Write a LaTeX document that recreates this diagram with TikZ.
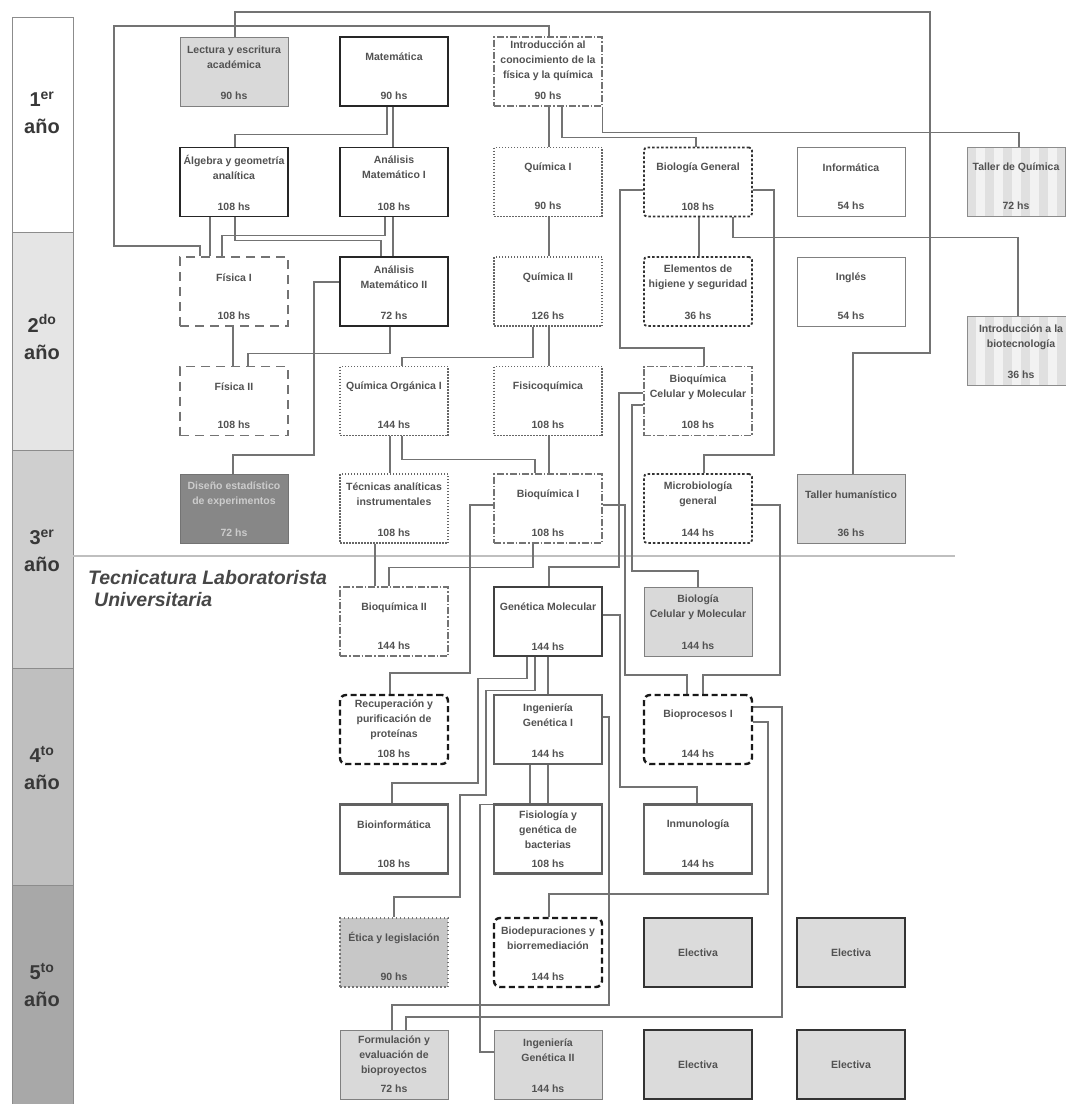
\documentclass[tikz,border=0pt]{standalone}
\usepackage{fontspec}
\setmainfont{Liberation Sans}

\pgfdeclarelayer{fondo}
\pgfsetlayers{fondo,main}

\tikzset{
  caja/.style={minimum width=108pt, minimum height=69pt, inner sep=0pt, fill=white},
  titulo/.style={align=center, inner sep=0pt, font=\fontsize{10.5}{15}\selectfont\bfseries, text=black!68},
  linea/.style={draw=black!55, line width=1.1pt},
  fuerte/.style={draw=black!85, line width=1.8pt},
  fina/.style={draw=black!50, line width=1pt},
  gris/.style={draw=black!50, line width=1pt, fill=black!15},
  rayado/.style={draw=black!45, line width=1pt, fill=black!5,
    path picture={\foreach \k in {0,18,...,108}
      \fill[black!12] ([xshift=\k pt]path picture bounding box.north west) rectangle ++(9,69);}},
  punteado/.style={draw=black!60, line width=1.3pt, dash pattern=on 1.5pt off 1.5pt},
  puntos/.style={draw=black!80, line width=1.8pt, dash pattern=on 2.5pt off 2pt, rounded corners=3pt},
  rayas/.style={draw=black!55, line width=1.3pt, dash pattern=on 9pt off 6pt},
  rayapunto/.style={draw=black!55, line width=1.1pt, dash pattern=on 7pt off 2pt on 1.5pt off 2pt},
  oscuro/.style={draw=black!55, line width=1pt, fill=black!47, text=black!20},
  doble/.style={draw=black!75, line width=2.8pt},
  grueso/.style={draw=black!62, line width=2.2pt},
  trazos/.style={draw=black!90, line width=2.4pt, dash pattern=on 6pt off 3.5pt, rounded corners=6pt},
  etica/.style={draw=black!55, line width=1.4pt, dash pattern=on 1.5pt off 2.5pt, fill=black!22},
  electiva/.style={draw=black!80, line width=2pt, fill=black!14},
  anio/.style={align=center, inner sep=0pt, font=\fontsize{20}{27}\selectfont\bfseries, text=black!78},
}

% caja de una materia: [bajada del titulo], nombre, estilo, centro, titulo, horas
\newcommand{\materia}[6][21]{%
  \node[caja,#3] (#2) at (#4) {};
  \node[titulo,#3,draw=none,fill=none,minimum width=0pt,path picture={}] (#2-t) at ([yshift=-#1pt]#2.north) {#5};
  \node[titulo,#3,draw=none,fill=none,minimum width=0pt,path picture={}] (#2-h) at ([yshift=11pt]#2.south) {#6~hs};
}

\begin{document}
\begin{tikzpicture}[x=1pt,y=-1pt]
\useasboundingbox (0,0) rectangle (1066,1104);

\begin{pgfonlayer}{fondo}
  \fill[white] (0,0) rectangle (1066,1104);
  % Columna de años
  \foreach \n/\suf/\ya/\yb/\yc/\tono in {1/er/17/232/113/white, 2/do/232/450/337/black!10,
      3/er/450/668/551/black!19, 4/to/668/885/768/black!25, 5/to/885/1110/985/black!34} {
    \draw[fill=\tono, draw=black!45, line width=0.8pt] (12,\ya) rectangle (73,\yb);
    \node[anio] (anio\n) at (42,\yc) {\n\textsuperscript{\suf}\\año};
  }
  % Tecnicatura
  \draw[black!25, line width=2pt] (73,556) -- (955,556);
\end{pgfonlayer}

\node[anchor=north west, align=left, inner sep=0pt, text=black!72,
  font=\fontsize{19.5}{22}\selectfont\bfseries\itshape] (tecnicatura) at (88,570)
  {Tecnicatura Laboratorista\\\hspace{6pt}Universitaria};

% Primer año
\materia{lect}{gris}{234,71.5}{Lectura y escritura\\académica}{90}
\materia{mate}{fuerte}{394,71.5}{Matemática}{90}
\materia[24]{intro}{rayapunto}{548,71.5}{Introducción al\\conocimiento de la\\física y la química}{90}
\materia{alg}{fuerte}{234,182}{Álgebra y geometría\\analítica}{108}
\materia{anI}{fuerte}{394,182}{Análisis\\Matemático I}{108}
\materia{quiI}{punteado}{548,182}{Química I}{90}
\materia{biogen}{puntos}{698,182}{Biología General}{108}
\materia{info}{fina}{851,182}{Informática}{54}
\materia{tallerq}{rayado,minimum width=98pt}{1016,182}{Taller de Química}{72}

% Segundo año
\materia{fisI}{rayas}{234,291.5}{Física I}{108}
\materia{anII}{fuerte}{394,291.5}{Análisis\\Matemático II}{72}
\materia{quiII}{punteado}{548,291.5}{Química II}{126}
\materia{elem}{puntos}{698,291.5}{Elementos de\\higiene y seguridad}{36}
\materia{ingles}{fina}{851,291.5}{Inglés}{54}
\materia{introbio}{rayado}{1021,351}{Introducción a la\\biotecnología}{36}
\materia{fisII}{rayas}{234,401}{Física II}{108}
\materia{quiorg}{punteado}{394,401}{Química Orgánica I}{144}
\materia{fisicoq}{punteado}{548,401}{Fisicoquímica}{108}
\materia{bioqcel}{rayapunto}{698,401}{Bioquímica\\Celular y Molecular}{108}

% Tercer año
\materia{dise}{oscuro}{234,508.5}{Diseño estadístico\\de experimentos}{72}
\materia{tecn}{punteado}{394,508.5}{Técnicas analíticas\\instrumentales}{108}
\materia{bioqI}{rayapunto}{548,508.5}{Bioquímica I}{108}
\materia{micro}{puntos}{698,508.5}{Microbiología\\general}{144}
\materia{tallerh}{gris}{851,508.5}{Taller humanístico}{36}
\materia{bioqII}{rayapunto}{394,621.5}{Bioquímica II}{144}
\materia{genmol}{doble}{548,621.5}{Genética Molecular}{144}
\materia{biolcel}{gris}{698,621.5}{Biología\\Celular y Molecular}{144}

% Cuarto año
\materia[26]{recup}{trazos}{394,729.5}{Recuperación y\\purificación de\\proteínas}{108}
\materia{ingI}{grueso}{548,729.5}{Ingeniería\\Genética I}{144}
\materia{biopro}{trazos}{698,729.5}{Bioprocesos I}{144}
\materia{bioinf}{grueso}{394,839}{Bioinformática}{108}
\materia[26]{fisio}{grueso}{548,839}{Fisiología y\\genética de\\bacterias}{108}
\materia{inmu}{grueso}{698,839}{Inmunología}{144}

% Quinto año
\materia{etica}{etica}{394,952.5}{Ética y legislación}{90}
\materia{biodep}{trazos}{548,952.5}{Biodepuraciones y\\biorremediación}{144}
\node[caja,electiva,titulo] (elec1) at (698,952.5) {Electiva};
\node[caja,electiva,titulo] (elec2) at (851,952.5) {Electiva};
\materia[26]{form}{gris}{394,1064.5}{Formulación y\\evaluación de\\bioproyectos}{72}
\materia{ingII}{gris}{548,1064.5}{Ingeniería\\Genética II}{144}
\node[caja,electiva,titulo] (elec3) at (698,1064.5) {Electiva};
\node[caja,electiva,titulo] (elec4) at (851,1064.5) {Electiva};

% Correlatividades
\begin{pgfonlayer}{fondo}
  \draw[linea] ([xshift=1pt]lect.north) |- (930,12) -- (930,353) -| ([xshift=2pt]tallerh.north);
  \draw[linea] ([xshift=1pt]intro.north) |- (114,26) -- (114,246) -| ([xshift=-34pt]fisI.north);
  \draw[linea] ([xshift=-7pt]mate.south) -- ++(0,28) -| ([xshift=1pt]alg.north);
  \draw[linea] ([xshift=-1pt]mate.south) -- ([xshift=-1pt]anI.north);
  \draw[linea] ([xshift=1pt]intro.south) -- ([xshift=1pt]quiI.north);
  \draw[linea] ([xshift=14pt]intro.south) -- ++(0,31) -| ([xshift=-2pt]biogen.north);
  \draw[linea] (intro.south east) -- ++(0,26) -| ([xshift=3pt]tallerq.north);
  \draw[linea] ([yshift=-8pt]biogen.west) -| (620,348) -| ([xshift=6pt]bioqcel.north);
  \draw[linea] ([yshift=-8pt]biogen.east) -| (774,455) -| ([xshift=6pt]micro.north);
  \draw[linea] ([xshift=1pt]biogen.south) -- ([xshift=1pt]elem.north);
  \draw[linea] ([xshift=35pt]biogen.south) -- ++(0,20) -| ([xshift=-3pt]introbio.north);
  \draw[linea] ([xshift=-24pt]alg.south) -- ([xshift=-24pt]fisI.north);
  \draw[linea] ([xshift=1pt]alg.south) -- ++(0,23) -| ([xshift=-13pt]anII.north);
  \draw[linea] ([xshift=-9pt]anI.south) -- ++(0,18) -| ([xshift=-12pt]fisI.north);
  \draw[linea] ([xshift=-1pt]anI.south) -- ([xshift=-1pt]anII.north);
  \draw[linea] ([xshift=1pt]quiI.south) -- ([xshift=1pt]quiII.north);
  \draw[linea] ([xshift=-1pt]fisI.south) -- ([xshift=-1pt]fisII.north);
  \draw[linea] ([xshift=-4pt]anII.south) -- ++(0,27) -| ([xshift=14pt]fisII.north);
  \draw[linea] ([yshift=9.5pt]anII.west) -| (314,455) -| ([xshift=-1pt]dise.north);
  \draw[linea] ([xshift=-15pt]quiII.south) -- ++(0,31) -| ([xshift=8pt]quiorg.north);
  \draw[linea] ([xshift=1pt]quiII.south) -- ([xshift=1pt]fisicoq.north);
  \draw[linea] ([xshift=-4pt]quiorg.south) -- ([xshift=-4pt]tecn.north);
  \draw[linea] ([xshift=8pt]quiorg.south) -- ++(0,23) -| ([xshift=-13pt]bioqI.north);
  \draw[linea] ([xshift=1pt]fisicoq.south) -- ([xshift=1pt]bioqI.north);
  \draw[linea] ([yshift=8pt]bioqcel.west) -| (619,567) -| ([xshift=1pt]genmol.north);
  \draw[linea] ([yshift=-4pt]bioqcel.west) -| (632,571) -| ([xshift=0pt]biolcel.north);
  \draw[linea] ([xshift=-15pt]bioqI.south) -- ++(0,24) -| ([xshift=-5pt]bioqII.north);
  \draw[linea] ([xshift=-19pt]tecn.south) -- ([xshift=-19pt]bioqII.north);
  \draw[linea] ([yshift=3.5pt]bioqI.west) -| (470,673) -| ([xshift=-4pt]recup.north);
  \draw[linea] ([yshift=3.5pt]bioqI.east) -| (625,675) -| ([xshift=-11pt]biopro.north);
  \draw[linea] ([yshift=3.5pt]micro.east) -| (780,675) -| ([xshift=5pt]biopro.north);
  \draw[linea] ([xshift=0pt]genmol.south) -- ([xshift=0pt]ingI.north);
  \draw[linea] ([xshift=-21pt]genmol.south) -- ++(0,21) -| (478,783) -| ([xshift=-2pt]bioinf.north);
  \draw[linea] ([xshift=-13pt]genmol.south) -- ++(0,33) -| (486,795) -| (460,897) -| ([xshift=0pt]etica.north);
  \draw[linea] ([yshift=6.5pt]genmol.east) -| (620,787) -| ([xshift=-1pt]inmu.north);
  \draw[linea] ([xshift=0pt]ingI.south) -- ([xshift=0pt]fisio.north);
  \draw[linea] ([xshift=-18pt]ingI.south) -- ++(0,39) -| (480,1052) -- ([yshift=12.5pt]ingII.west);
  \draw[linea] ([yshift=12.5pt]ingI.east) -| (609,1005) -| ([xshift=-2pt]form.north);
  \draw[linea] ([yshift=22.5pt]biopro.east) -| (782,1017) -| ([xshift=12pt]form.north);
  \draw[linea] ([yshift=7.5pt]biopro.east) -| (768,894) -| ([xshift=1pt]biodep.north);
\end{pgfonlayer}
\end{tikzpicture}
\end{document}
